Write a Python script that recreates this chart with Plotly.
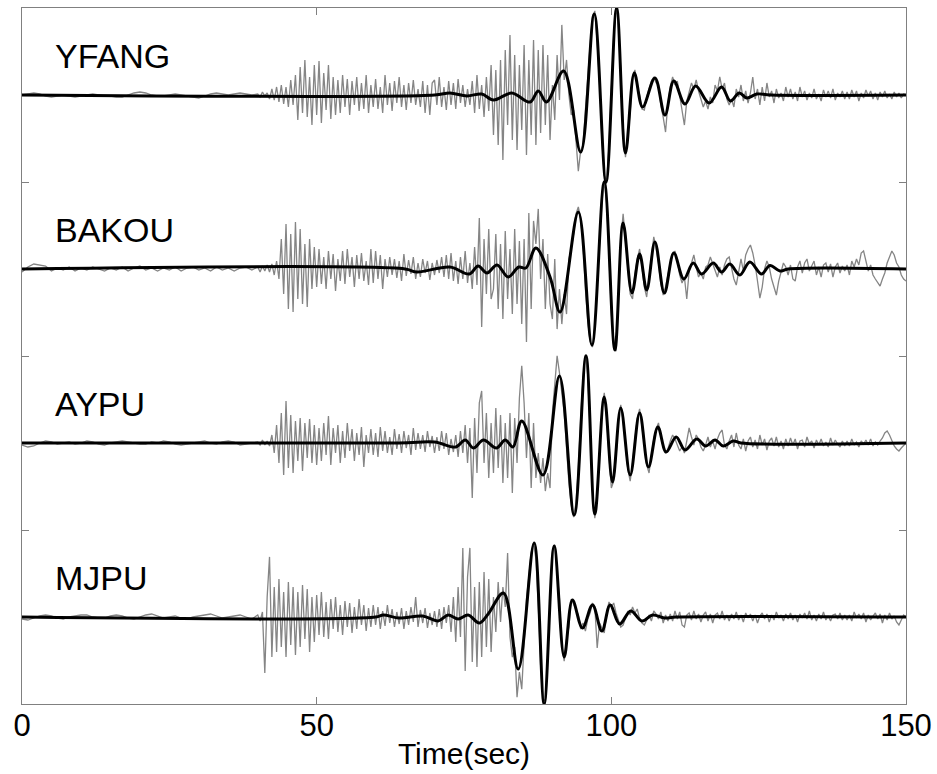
import numpy as np
import plotly.graph_objects as go

# ---------------- data (amplitudes read in pixels above each trace baseline) ----------------
stations = ["YFANG", "BAKOU", "AYPU", "MJPU"]
offsets = [3.5, 2.5, 1.5, 0.5]
px_per_unit = 173.75  # vertical pixels per trace slot

x_ticks = [0, 50, 100, 150]
x_title = "Time(sec)"

# gray (observed) traces: quiet part sampled every 1 s from 0 s, dense part every 0.4 s from 40 s
yfang_gray_quiet = [0,1,2,1,-1,-2,-1,0,-1,-2,-1,0,1,0,-1,-1,-2,-2,0,2,3,2,0,-1,-1,0,1,0,-1,-2,-3,-1,1,2,1,0,1,2,1,0]
yfang_gray_dense = [
    1,-2,3,-1,2,-4,6,-5,8,-7,10,-9,8,-12,15,-10,20,-25,28,-18,35,-22,18,-30,30,
    -20,34,-28,22,-15,30,-24,18,-20,15,-18,20,-12,16,-20,14,-10,18,-16,12,-14,20,-18,10,-12,
    16,-14,8,-18,20,-10,12,-16,14,-8,18,-12,10,-15,12,-8,15,-10,6,-12,14,-18,10,-20,12,
    15,-10,18,-12,8,-15,14,-10,12,-14,16,-8,10,-12,6,-10,14,-18,20,-14,10,-22,18,-16,30,
    -40,25,-50,35,-65,45,-30,60,-45,40,-55,30,-35,50,-60,35,-40,55,-50,45,-38,50,-30,40,-45,
    10,-25,40,-5,70,15,35,0,-20,-15,-50,-76,-55,-50,-15,20,50,78,84,52,12,-45,-80,-86,-52,
    5,58,88,70,25,-30,-62,-40,-18,18,25,8,0,-14,-15,-2,6,14,18,12,10,-10,-22,-37,-8,
    8,18,10,14,-2,-14,-30,-6,2,12,6,15,4,-4,-12,-6,-14,-2,-8,10,4,18,6,12,-4,
    -10,-4,-12,6,-2,10,-6,4,-8,2,18,-4,6,-10,8,-6,12,-2,4,-8,6,-3,2,-6,8,
    -2,6,-4,3,-6,8,-2,4,-5,2,-3,6,-4,1,-6,5,-2,4,-3,6,-5,2,-2,4,-4,
    3,-4,5,-2,4,-6,2,-3,5,-1,4,-4,2,-5,3,-2,4,-3,1,-4,3,-2,2,-3,1,
    0]

bakou_gray_quiet = [-3,2,5,4,3,-2,1,-1,2,-2,1,-1,2,0,-2,1,-1,2,-2,1,3,-1,1,-2,1,-1,2,-2,1,2,-1,1,-2,2,-1,1,-2,1,2,-1]
bakou_gray_dense = [
    2,-3,3,-2,4,-3,5,-6,8,-10,30,-25,45,-40,35,-43,47,-30,40,-35,25,-38,30,-20,22,
    -18,20,-15,12,-20,18,-10,15,-22,10,-12,18,-15,20,-8,12,-18,14,-10,16,-12,8,-16,20,-14,
    18,-10,14,-20,10,-8,12,-6,10,-9,8,-12,15,-7,9,-5,12,-10,6,-8,10,-4,8,-11,6,
    -6,9,-4,12,-8,14,-10,16,-12,8,-15,12,-10,18,-14,6,-20,22,-16,51,-58,30,-25,40,-30,
    -20,35,-40,25,-50,38,-30,20,-45,40,-35,28,-55,30,-73,56,-40,48,25,60,-10,30,-40,15,-35,
    -50,10,-60,-20,-55,-25,-45,10,20,35,55,62,50,25,-20,-52,-72,-78,-58,-20,25,66,88,65,15,
    -45,-70,-82,-28,28,55,30,2,-25,-30,-5,10,20,2,-18,-28,-8,12,32,20,6,-15,-26,-18,-4,
    6,14,18,8,-6,-14,-8,-30,-2,6,14,2,-8,-4,-10,2,4,12,6,-2,-8,2,-6,4,10,
    12,2,-10,-16,-4,10,-2,14,20,24,16,4,-12,-29,-18,0,8,2,-10,-18,-26,-12,-4,6,2,
    -6,4,-10,-12,2,8,-4,6,10,-2,4,8,-6,2,-8,4,6,-3,5,-8,2,6,-4,3,-2,
    4,-6,8,2,10,4,16,18,8,-2,4,-6,-10,-14,-17,-10,-4,6,12,18,14,6,2,-6,-10,
    -12]

aypu_gray_quiet = [-2,-4,-3,0,2,1,-1,0,1,-1,0,2,1,-1,-2,0,1,2,1,0,-1,-1,1,0,2,1,-1,-2,-1,0,1,2,0,-1,1,2,1,-2,-1,0]
aypu_gray_dense = [
    1,-2,3,-2,2,-3,8,-10,18,-20,30,-32,42,-25,28,-30,22,-18,25,-28,20,-15,24,-20,18,
    -22,15,-18,20,-12,27,-22,15,-10,18,-20,12,-15,20,-8,14,-18,10,-12,16,-24,8,-10,14,-12,
    10,-14,16,-8,12,-10,6,-12,14,-6,9,-10,12,-5,8,-12,15,-7,10,-6,8,-9,12,-4,7,
    -10,6,-8,12,-6,10,-12,4,-9,8,-14,12,-10,18,-20,15,-55,25,-30,40,52,-20,30,-35,20,
    -30,35,-25,28,-40,20,-35,30,-50,25,-20,45,77,40,-15,30,-45,20,-35,-10,-40,-15,-48,-30,-45,
    30,60,87,70,52,30,-5,-40,-62,-74,-60,-25,25,66,88,68,12,-48,-75,-52,-8,32,50,26,-12,
    -45,-38,-14,24,38,22,-4,-26,-38,-20,4,24,34,18,-2,-22,-30,-12,4,14,20,6,-4,-10,-6,
    2,8,4,-2,-8,-4,-10,2,15,6,-2,8,4,-4,-8,-2,6,-4,2,-6,4,10,13,-2,-6,
    2,8,-4,10,-2,-6,4,-8,2,6,-4,3,-6,8,-2,4,-7,2,5,-3,6,-4,2,-6,4,
    -3,5,-2,4,-6,2,3,-4,6,-1,2,-5,3,-2,4,-3,1,-4,5,-2,3,-1,-4,2,-3,
    2,-3,4,-2,1,-4,2,-1,3,-2,4,-3,1,-2,2,5,10,12,8,2,-3,-6,-8,-5,-2,
    0]

mjpu_gray_quiet = [-2,-3,-1,1,2,1,-1,-2,0,1,2,2,0,-1,-1,1,2,1,-1,-2,0,2,3,1,-1,0,1,-1,-2,0,1,2,3,1,-1,0,1,2,0,-2]
mjpu_gray_dense = [
    2,-4,5,-56,20,60,-40,30,-35,38,-30,25,-40,35,-28,30,-38,25,-30,32,-22,28,-35,20,-25,
    22,-18,25,-20,15,-22,18,-12,20,-15,12,-18,16,-10,14,-16,10,-12,18,-8,12,-14,9,-10,12,
    -8,10,-12,6,-9,12,-6,8,-10,5,-7,9,-12,6,-8,10,-5,20,-10,7,-6,9,-11,4,-8,
    6,-10,8,-12,10,-6,12,-15,20,-25,30,-20,69,-54,40,69,-45,30,-50,35,-40,45,-30,38,-35,
    20,-15,35,-5,30,10,64,-20,-40,-30,-80,-55,-72,-20,18,40,64,74,58,12,-48,-82,-84,-40,16,
    66,72,48,18,-28,-44,-22,-10,18,12,6,2,-12,-6,-14,-2,4,14,10,-31,-6,-12,-16,4,15,
    10,14,4,-4,-10,-8,-2,6,2,10,4,8,-2,-6,-8,-3,2,-4,6,3,-2,5,-6,2,-4,
    3,-4,6,-2,5,-8,-10,2,4,-3,6,-2,3,-5,2,5,-4,3,-6,2,4,-2,6,-3,2,
    -4,3,-2,5,-3,2,-5,4,-1,3,-4,2,-6,1,4,-2,3,-5,2,-3,5,-1,2,-4,3,
    -2,4,-3,2,-5,3,-1,4,-2,6,-3,2,-4,3,-2,5,-3,1,-4,2,3,-2,4,-3,2,
    -3,2,-4,5,-1,3,-2,4,-5,2,-3,1,4,-2,3,-6,2,-3,4,-2,1,-5,-8,-3,2,
    0]

# black (filtered) traces: times of extrema (s) and their amplitudes (px)
yfang_black_t = [0,70,72.6,75.5,78.0,80.0,83.1,86.2,87.6,89.0,91.9,94.8,97.1,99.1,100.9,102.4,103.9,105.3,107.4,109.1,110.6,112.5,114.3,116.6,118.7,120.2,121.7,123.0,124.7,127,150]
yfang_black_a = [0,0,2,-1,1,-5,2,-7,4,-7,24,-57,81,-87,87,-58,22,-12,17,-20,14,-9,9,-8,8,-6,2,-3,1,0,0]

bakou_black_t = [0,65,67,72.6,75.9,77.4,78.9,80.6,82.5,84.3,85.5,87.2,89.6,91.3,94.4,96.7,98.8,100.6,102.0,103.5,104.8,106.0,107.4,109.0,110.6,112.3,113.9,115.3,117.3,118.7,120.1,121.8,123.5,125.5,126.9,128.6,130,150]
bakou_black_a = [0,0,-3,2,-5,3,-4,4,-8,2,1,21,-8,-43,57,-76,87,-81,46,-24,15,-21,27,-24,16,-10,6,-5,6,-3,5,-6,7,-5,3.5,-2,0,0]

aypu_black_t = [0,64,70,73.6,75.2,76.6,78.3,80.5,82.0,83.3,84.8,88.4,91.2,93.7,95.7,97.2,98.8,100.2,101.6,103.2,104.8,106.3,107.9,109.3,111.0,112.5,114.5,116.0,117.6,119.0,120.7,122,150]
aypu_black_a = [0,0,1,-4,3,-5,3,-5,3,-4,22,-32,67,-72,87,-71,46,-39,35,-32,30,-24,16,-9,6,-7,4,-3,3,-3,2,0,0]

mjpu_black_t = [0,60,61.3,64,68,70.6,72.3,74,75.7,77.6,79.1,81.7,84.2,86.9,88.6,90.3,92.0,93.4,95.1,96.8,98.4,99.8,101.4,103.3,105.2,107,109,111,150]
mjpu_black_a = [0,0,2,-1,1,-4,2,-2,2,-6,3,24,-52,74,-87,71,-40,17,-11,12,-14,12,-7,6,-4,2,-1,0,0]

gray_quiet = [yfang_gray_quiet, bakou_gray_quiet, aypu_gray_quiet, mjpu_gray_quiet]
gray_dense = [yfang_gray_dense, bakou_gray_dense, aypu_gray_dense, mjpu_gray_dense]
black_t = [yfang_black_t, bakou_black_t, aypu_black_t, mjpu_black_t]
black_a = [yfang_black_a, bakou_black_a, aypu_black_a, mjpu_black_a]

# ---------------- figure ----------------
fig = go.Figure()
GRAY = "#858585"

for k in range(4):
    q = np.asarray(gray_quiet[k], float)
    d = np.asarray(gray_dense[k], float)
    t = np.concatenate([1.0 * np.arange(len(q)), 40.0 + 0.4 * np.arange(len(d))])
    y = offsets[k] + np.concatenate([q, d]) / px_per_unit
    fig.add_trace(go.Scatter(x=t, y=y, mode="lines",
                             line=dict(color=GRAY, width=1.3),
                             hoverinfo="skip", showlegend=False))

for k in range(4):
    bt = np.asarray(black_t[k], float)
    ba = offsets[k] + np.asarray(black_a[k], float) / px_per_unit
    fig.add_trace(go.Scatter(x=bt, y=ba, mode="lines",
                             line=dict(color="black", width=3, shape="spline", smoothing=1.0),
                             hoverinfo="skip", showlegend=False))

for k in range(4):
    fig.add_annotation(x=5.2, y=offsets[k] + 0.225, text=stations[k], showarrow=False,
                       xanchor="left", yanchor="middle",
                       font=dict(family="Liberation Sans, Arial", size=34, color="black"))

fig.update_layout(
    width=937, height=774,
    margin=dict(l=22, r=31, t=8, b=70, autoexpand=False),
    paper_bgcolor="white", plot_bgcolor="white",
    font=dict(family="Liberation Sans, Arial", color="black"),
)
fig.update_xaxes(range=[0, 150], tickvals=x_ticks, ticktext=[str(v) for v in x_ticks],
                 ticks="inside", ticklen=7, tickcolor="#808080", tickwidth=1,
                 showline=True, linecolor="#808080", linewidth=1, mirror="ticks",
                 showgrid=False, zeroline=False, automargin=False,
                 tickfont=dict(size=31, color="black"),
                 title=dict(text=x_title, font=dict(size=30, color="black"), standoff=0))
try:
    fig.update_xaxes(ticklabelstandoff=-6)
except Exception:
    pass
fig.update_yaxes(range=[0, 4], tickvals=[1, 2, 3], showticklabels=False,
                 ticks="inside", ticklen=7, tickcolor="#808080", tickwidth=1,
                 showline=True, linecolor="#808080", linewidth=1, mirror="ticks",
                 showgrid=False, zeroline=False, automargin=False)

fig.write_html("out.html")
